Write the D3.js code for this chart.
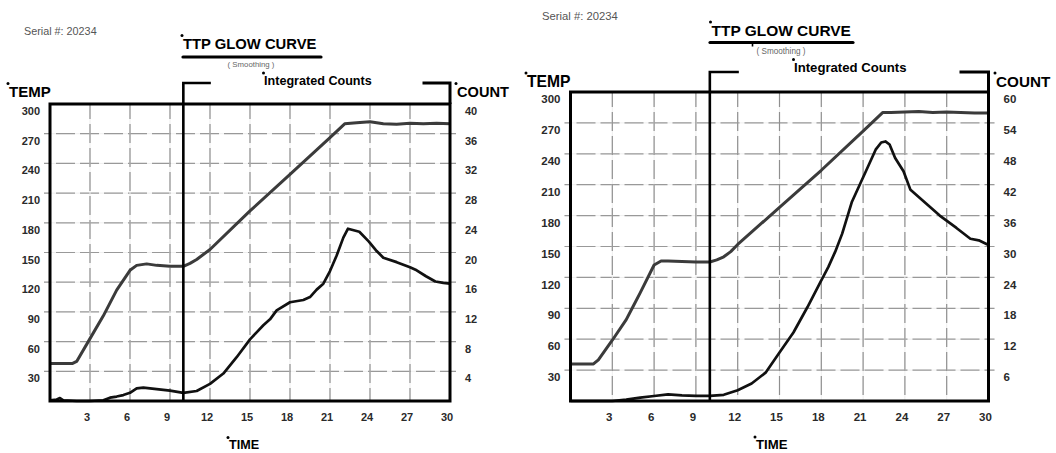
<!DOCTYPE html>
<html>
<head>
<meta charset="utf-8">
<script src="https://cdn.jsdelivr.net/npm/d3@7"></script>
<style>
  html, body { margin: 0; padding: 0; background: #fff; }
  svg { display: block; font-family: "Liberation Sans", Arial, sans-serif; }
</style>
</head>
<body>
<svg id="chart" width="1056" height="453"></svg>
<script>
// ---------- data ----------
const serialLabel = "Serial #: 20234";
const titleText = "TTP GLOW CURVE";
const subtitleText = "( Smoothing )";
const integratedLabel = "Integrated Counts";
const tempLabel = "TEMP";
const countLabel = "COUNT";
const timeLabel = "TIME";

const timeTicks = [3, 6, 9, 12, 15, 18, 21, 24, 27, 30];
const tempTicks = [30, 60, 90, 120, 150, 180, 210, 240, 270, 300];
const countTicksA = [4, 8, 12, 16, 20, 24, 28, 32, 36, 40];
const countTicksB = [6, 12, 18, 24, 30, 36, 42, 48, 54, 60];
const markerTime = 10;

// Left chart (A)
const tempTimeA = [0, 1.7, 2, 3, 4, 5, 6, 6.5, 7.25, 8, 9, 10, 10.5, 11, 12, 15, 18, 21, 22.1, 23, 24, 25, 26, 27, 28, 29, 30];
const tempA     = [38, 38, 40, 63, 86, 112, 132, 137, 138.5, 137, 136, 136, 139, 143, 153, 192, 229, 266, 280, 281, 282, 280, 279.5, 280.5, 280, 280.5, 280];
const countTimeA = [0, 0.5, 0.75, 1, 2, 3, 4, 4.5, 5, 5.5, 6, 6.5, 7, 8, 9, 10, 11, 12, 13, 14, 15, 16, 16.5, 17, 18, 19, 19.5, 20, 20.5, 21, 21.5, 22, 22.35, 23.2, 23.9, 24.5, 25, 26, 27, 27.5, 28.2, 28.9, 29.5, 30];
const countA     = [0.1, 0.2, 0.4, 0.1, 0, 0, 0.1, 0.45, 0.6, 0.8, 1.1, 1.7, 1.8, 1.6, 1.4, 1.1, 1.35, 2.3, 3.7, 5.9, 8.3, 10.2, 11, 12.2, 13.3, 13.6, 14, 15, 15.8, 17.5, 19.6, 22, 23.2, 22.8, 21.5, 20.2, 19.3, 18.7, 18, 17.6, 16.8, 16.1, 15.9, 15.8];

// Right chart (B)
const tempTimeB = [0, 1.65, 2, 3, 4, 4.5, 5, 6, 6.5, 7, 8, 9, 10, 10.5, 11, 11.5, 12, 15, 18, 21, 22.4, 23, 24, 25, 26, 27, 28, 29, 30];
const tempB     = [36, 36, 40, 59, 79, 92, 105, 132, 136, 136, 135.5, 135, 135, 137, 140, 145, 152, 188, 224, 262, 280, 280, 280.5, 281, 280, 280.5, 280, 279.5, 279.5];
const countTimeB = [0, 2, 3, 4, 5, 6, 7, 8, 9, 10, 11, 12, 13, 14, 15, 16, 17, 18, 18.5, 19, 19.5, 20.2, 21.2, 21.9, 22.3, 22.6, 22.9, 23.3, 23.9, 24.4, 25.5, 26.5, 27.7, 28.7, 29.3, 30];
const countB     = [0, 0, 0, 0.26, 0.65, 0.97, 1.3, 1.1, 1.0, 1.0, 1.2, 2.1, 3.4, 5.5, 9.4, 13.3, 18.2, 23.4, 26, 29, 32.5, 38.7, 44.6, 48.8, 50.2, 50.4, 49.8, 47.2, 44.6, 41, 38.4, 36, 33.6, 31.5, 31.2, 30.3];

// ---------- drawing ----------
const svg = d3.select("#chart");

function drawPanel(p) {
  const g = svg.append("g");
  const x = d3.scaleLinear().domain([0, 30]).range([p.x0, p.x1]);
  const yT = d3.scaleLinear().domain([0, 300]).range([p.yBot, p.yTop]);
  const yC = d3.scaleLinear().domain([0, p.countMax]).range([p.yBot, p.yTop]);
  const s = p.scale;

  // gridlines
  const grid = g.append("g");
  tempTicks.filter(v => v < 300).forEach(v => {
    grid.append("line").attr("x1", p.x0 - 6).attr("x2", p.x1 + 6)
      .attr("y1", yT(v)).attr("y2", yT(v))
      .attr("stroke", "#efefef").attr("stroke-width", 1);
    grid.append("line").attr("x1", p.x0 - 6).attr("x2", p.x1 + 6)
      .attr("y1", yT(v)).attr("y2", yT(v))
      .attr("stroke", "#999").attr("stroke-width", 1.2)
      .attr("stroke-dasharray", "19,5").attr("stroke-dashoffset", 12);
  });
  timeTicks.filter(v => v < 30).forEach(v => {
    grid.append("line").attr("x1", x(v)).attr("x2", x(v))
      .attr("y1", p.yTop).attr("y2", p.yBot)
      .attr("stroke", "#efefef").attr("stroke-width", 1);
    grid.append("line").attr("x1", x(v)).attr("x2", x(v))
      .attr("y1", p.yTop).attr("y2", p.yBot)
      .attr("stroke", "#8f8f8f").attr("stroke-width", 1.2)
      .attr("stroke-dasharray", "19,5").attr("stroke-dashoffset", 4);
  });

  // axes (labels only)
  const axL = g.append("g").attr("transform", `translate(${p.x0},0)`)
    .call(d3.axisLeft(yT).tickValues(tempTicks).tickSize(0).tickPadding(10));
  const axR = g.append("g").attr("transform", `translate(${p.x1},0)`)
    .call(d3.axisRight(yC).tickValues(p.countTicks).tickSize(0).tickPadding(15));
  const axB = g.append("g").attr("transform", `translate(0,${p.yBot})`)
    .call(d3.axisBottom(x).tickValues(timeTicks).tickSize(0).tickPadding(12));
  [axL, axR, axB].forEach(ax => {
    ax.select(".domain").remove();
    ax.selectAll("text").attr("fill", "#2a2a2a").attr("font-weight", "bold")
      .attr("font-size", 11 * s).attr("font-family", "Liberation Sans, Arial, sans-serif");
  });
  axL.selectAll("text").attr("y", 7);
  axR.selectAll("text").attr("y", 7);
  axB.selectAll("text").attr("x", -3.5);

  // curves
  const line = d3.line().x(d => x(d[0])).y(d => d[1]);
  const tempPts = p.tempTime.map((t, i) => [t, yT(p.temp[i])]);
  const countPts = p.countTime.map((t, i) => [t, yC(p.count[i])]);
  g.append("path").attr("d", line(tempPts)).attr("fill", "none")
    .attr("stroke", "#3b3b3b").attr("stroke-width", 3).attr("stroke-linejoin", "round");
  g.append("path").attr("d", line(countPts)).attr("fill", "none")
    .attr("stroke", "#111").attr("stroke-width", 2.7).attr("stroke-linejoin", "round");

  // frame
  g.append("rect").attr("x", p.x0).attr("y", p.yTop)
    .attr("width", p.x1 - p.x0).attr("height", p.yBot - p.yTop)
    .attr("fill", "none").attr("stroke", "#000").attr("stroke-width", 3);

  // marker line + brackets
  const mx = x(markerTime);
  g.append("path").attr("d", `M${mx + p.bracketLen},${p.bracketY} H${mx} V${p.yBot}`)
    .attr("fill", "none").attr("stroke", "#000").attr("stroke-width", 2.6);
  g.append("path").attr("d", `M${p.x1 - p.bracketLen},${p.bracketY} H${p.x1} V${p.yTop}`)
    .attr("fill", "none").attr("stroke", "#000").attr("stroke-width", 3);

  // texts
  const txt = (str, xx, yy, size, weight, fill, anchor) =>
    g.append("text").attr("x", xx).attr("y", yy).attr("font-size", size)
      .attr("font-weight", weight).attr("fill", fill)
      .attr("text-anchor", anchor || "start").text(str);
  const dot = (xx, yy) => g.append("circle").attr("cx", xx).attr("cy", yy).attr("r", 1.5).attr("fill", "#000");

  txt(serialLabel, p.serialX, p.serialY, 10.8 * s, "normal", "#555");
  txt(titleText, p.titleX, p.titleY, 14.8 * s, "bold", "#000");
  dot(p.titleX - 1, p.titleY - 13.5 * s);
  g.append("line").attr("x1", p.ulX0).attr("x2", p.ulX1).attr("y1", p.ulY).attr("y2", p.ulY)
    .attr("stroke", "#000").attr("stroke-width", 3.2).attr("stroke-linecap", "round");
  if (p.ulTick) {
    g.append("line").attr("x1", p.ulTick).attr("x2", p.ulTick).attr("y1", p.ulY).attr("y2", p.ulY + 4)
      .attr("stroke", "#000").attr("stroke-width", 1.6);
  }
  txt(subtitleText, p.subX, p.subY, 7.8 * s, "normal", "#666", "middle");
  txt(integratedLabel, p.intX, p.intY, 12.6 * s, "bold", "#000");
  dot(p.intX - 0.5, p.intY - 11.5 * s);
  txt(tempLabel, p.tempX, p.tempY, 15 * s, "bold", "#000");
  dot(p.tempX - 1, p.tempY - 13.5 * s);
  txt(countLabel, p.countX, p.tempY, 14.6 * s, "bold", "#000");
  dot(p.countX - 1, p.tempY - 13.5 * s);
  txt(timeLabel, p.timeX, p.timeY, 12.6 * s, "bold", "#000");
  dot(p.timeX - 1, p.timeY - 11.5 * s);
}

drawPanel({
  x0: 50, x1: 450, yTop: 104, yBot: 401, countMax: 40, countTicks: countTicksA,
  tempTime: tempTimeA, temp: tempA, countTime: countTimeA, count: countA,
  bracketY: 83, bracketLen: 27.5, scale: 1,
  serialX: 24, serialY: 35, titleX: 183, titleY: 49, ulX0: 183, ulX1: 321, ulY: 57, ulTick: null,
  subX: 251, subY: 66.5, intX: 264, intY: 84.5, tempX: 9, tempY: 97, countX: 457,
  timeX: 229, timeY: 449
});

drawPanel({
  x0: 570.5, x1: 988.5, yTop: 92, yBot: 401, countMax: 60, countTicks: countTicksB,
  tempTime: tempTimeB, temp: tempB, countTime: countTimeB, count: countB,
  bracketY: 72, bracketLen: 29, scale: 1.045,
  serialX: 542, serialY: 19.5, titleX: 711.5, titleY: 36, ulX0: 710, ulX1: 853, ulY: 42.5, ulTick: 752.5,
  subX: 781, subY: 53.5, intX: 794, intY: 71.5, tempX: 527, tempY: 87, countX: 996,
  timeX: 756, timeY: 449
});
</script>
</body>
</html>
